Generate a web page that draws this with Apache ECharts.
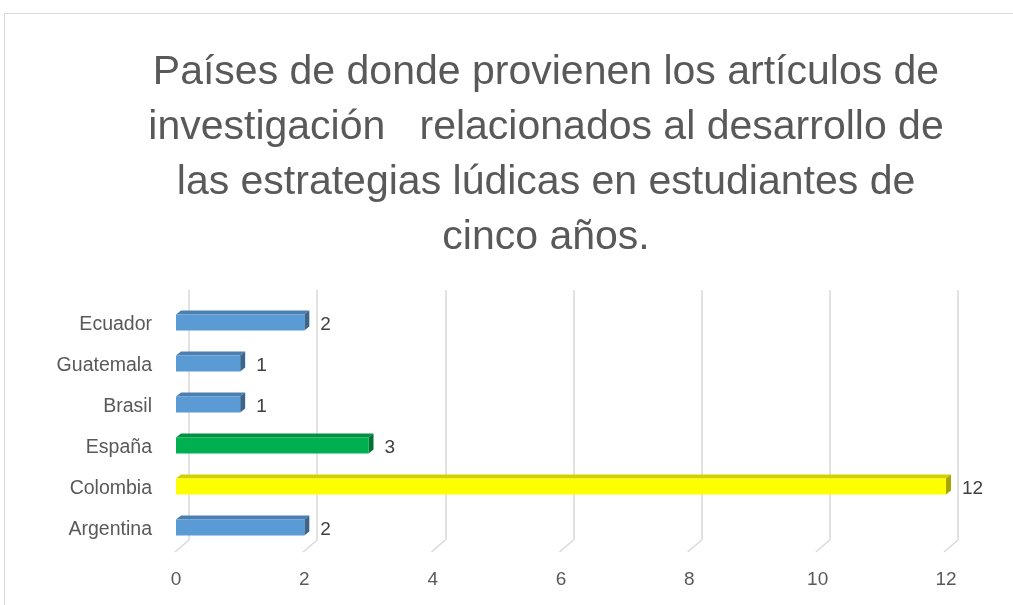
<!DOCTYPE html>
<html>
<head>
<meta charset="utf-8">
<script src="https://cdn.jsdelivr.net/npm/echarts@6/dist/echarts.min.js"></script>
<style>
  html, body { margin: 0; padding: 0; background: #fff; }
  #main { width: 1013px; height: 605px; }
  #frame { position: absolute; left: 4px; top: 13px; width: 1020px; height: 600px; border: 1px solid #d9d9d9; box-sizing: border-box; }
</style>
</head>
<body>
<div id="frame"></div>
<div id="main" style="position:absolute;left:0;top:0;"></div>
<script>
  // datos
  var paises = ["Argentina", "Colombia", "España", "Brasil", "Guatemala", "Ecuador"];
  var articulos = [2, 12, 3, 1, 1, 2];
  var coloresFrente = ["#5b9bd5", "#ffff00", "#00b050", "#5b9bd5", "#5b9bd5", "#5b9bd5"];
  var ticks = [0, 2, 4, 6, 8, 10, 12];

  var titulo = "Países de donde provienen los artículos de\ninvestigación   relacionados al desarrollo de\nlas estrategias lúdicas en estudiantes de\ncinco años.";

  function oscurecer(hex, f) {
    var c = echarts.color.parse(hex);
    return "rgb(" + Math.round(c[0] * f) + "," + Math.round(c[1] * f) + "," + Math.round(c[2] * f) + ")";
  }

  var myChart = echarts.init(document.getElementById("main"));

  var option = {
    backgroundColor: "transparent",
    title: {
      text: titulo,
      left: 541,
      top: 40,
      textAlign: "center",
      textStyle: {
        fontFamily: "Liberation Sans",
        fontSize: 41,
        fontWeight: "normal",
        color: "#595959",
        lineHeight: 55
      }
    },
    grid: [
      { left: 176, right: 67, top: 304, bottom: 55 },
      { left: 189, right: 55, top: 290, bottom: 65 }
    ],
    xAxis: [
      {
        gridIndex: 0, type: "value", min: 0, max: 12, interval: 2,
        axisLine: { show: false }, axisTick: { show: false }, splitLine: { show: false },
        axisLabel: { margin: 20, fontSize: 19, color: "#595959", fontFamily: "Liberation Sans" }
      },
      {
        gridIndex: 1, type: "value", min: 0, max: 12, interval: 2,
        axisLine: { show: false }, axisTick: { show: false }, axisLabel: { show: false },
        splitLine: { show: true, lineStyle: { color: "#d9d9d9", width: 1.5 } }
      }
    ],
    yAxis: [
      {
        gridIndex: 0, type: "category", data: paises,
        axisLine: { show: false }, axisTick: { show: false },
        axisLabel: { margin: 24, fontSize: 19.5, color: "#595959", fontFamily: "Liberation Sans" }
      },
      {
        gridIndex: 1, type: "value", min: 0, max: 1, show: false
      }
    ],
    series: [
      {
        // diagonales del piso
        type: "custom",
        xAxisIndex: 1, yAxisIndex: 1,
        silent: true,
        data: ticks.map(function (t) { return [t, 0]; }),
        renderItem: function (params, api) {
          var p = api.coord([api.value(0), 0]);
          return {
            type: "line",
            shape: { x1: p[0], y1: p[1], x2: p[0] - 14, y2: p[1] + 12 },
            style: { stroke: "#d9d9d9", lineWidth: 1.5 }
          };
        }
      },
      {
        // barras 3D
        type: "custom",
        xAxisIndex: 0, yAxisIndex: 0,
        data: articulos.map(function (v, i) { return [v, i]; }),
        renderItem: function (params, api) {
          var v = api.value(0);
          var p0 = api.coord([0, api.value(1)]);
          var p1 = api.coord([v, api.value(1)]);
          var h = 16, d = 5;
          var x0 = p0[0], x1 = p1[0];
          var yTop = p0[1] - 2 - h / 2, yBot = yTop + h;
          var col = coloresFrente[params.dataIndex];
          return {
            type: "group",
            children: [
              {
                type: "polygon",
                shape: { points: [[x0, yTop], [x0 + d, yTop - d + 1], [x1 + d, yTop - d + 1], [x1, yTop]] },
                style: { fill: oscurecer(col, 0.82) }
              },
              {
                type: "polygon",
                shape: { points: [[x1, yTop], [x1 + d, yTop - d + 1], [x1 + d, yBot - d + 1], [x1, yBot]] },
                style: { fill: oscurecer(col, 0.65) }
              },
              {
                type: "rect",
                shape: { x: x0, y: yTop, width: x1 - x0, height: h },
                style: { fill: col }
              },
              {
                type: "text",
                style: {
                  text: String(v),
                  x: x1 + d + 11, y: p0[1],
                  verticalAlign: "middle",
                  fontSize: 19, fill: "#404040", fontFamily: "Liberation Sans"
                }
              }
            ]
          };
        }
      }
    ]
  };

  myChart.setOption(option);
  window.addEventListener("resize", function () {
    myChart.resize();
  });
</script>
</body>
</html>
